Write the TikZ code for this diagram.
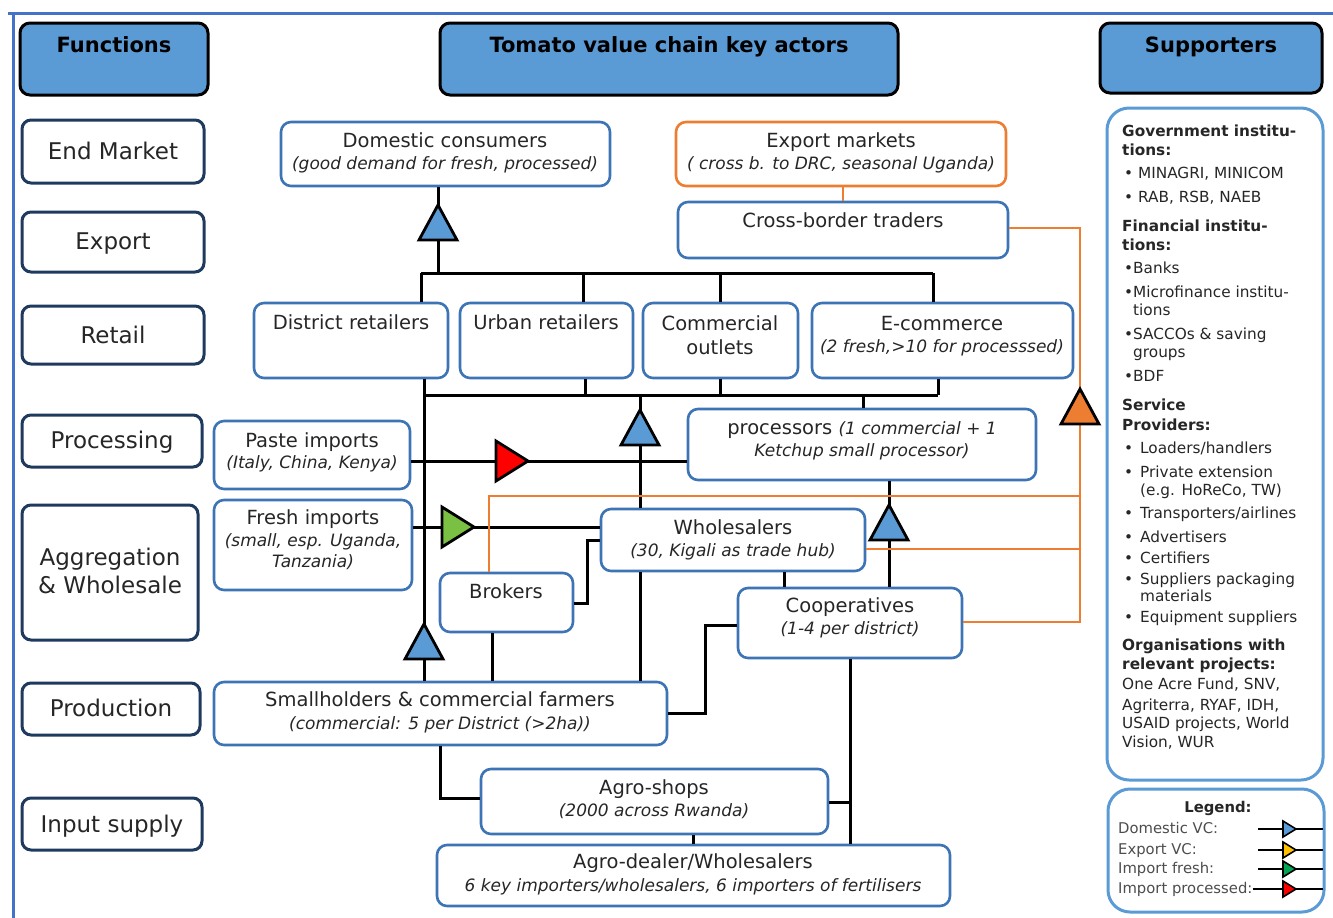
\documentclass[tikz,border=0pt]{standalone}
\usepackage{fontspec}
\setmainfont{DejaVu Sans}
\definecolor{hdrblue}{HTML}{5B9BD5}
\definecolor{actblue}{HTML}{3D74B5}
\definecolor{fnavy}{HTML}{1F3A5F}
\definecolor{txt}{HTML}{262626}
\definecolor{orng}{HTML}{ED7D31}
\definecolor{frameblue}{HTML}{4472C4}
\definecolor{trired}{HTML}{FF0000}
\definecolor{trigreen}{HTML}{7AC143}
\definecolor{legyellow}{HTML}{FFC000}
\definecolor{leggreen}{HTML}{00A651}
\definecolor{leggray}{HTML}{4D4D4D}

% box from corner (x1,y1) to corner (x2,y2)
\newcommand\mkbox[6]{\node[#1, minimum width={(#5)-(#3)}, minimum height={(#6)-(#4)}] (#2) at ({((#3)+(#5))/2},{((#4)+(#6))/2}) {};}
% one line of text, placed by its baseline
\newcommand\tline[5]{\node[#4] (#1) at (#2,#3) {#5};}
\newcommand\bul{\makebox[16pt][l]{•}}
% flow markers
\newcommand\triup[3]{\filldraw[tri, fill=#3] ({#1-19},{#2+17}) -- ({#1+19},{#2+17}) -- (#1,{#2-18}) -- cycle;}
\newcommand\triright[3]{\filldraw[tri, fill=#3] ({#1-16},{#2-20}) -- ({#1-16},{#2+20}) -- ({#1+16},#2) -- cycle;}
\newcommand\legtri[2]{\filldraw[draw=black, line width=1.6, fill=#2] (1283,{#1-8}) -- (1283,{#1+8}) -- (1296,#1) -- cycle;}

\begin{document}
\begin{tikzpicture}[x=1pt, y=-1pt,
  hbox/.style={draw=black, line width=3, fill=hdrblue, rounded corners=10, inner sep=0},
  fbox/.style={draw=fnavy, line width=3, fill=white, rounded corners=9, inner sep=0},
  abox/.style={draw=actblue, line width=2.6, fill=white, rounded corners=10, inner sep=0},
  obox/.style={abox, draw=orng},
  sbox/.style={draw=hdrblue, line width=3, fill=white, rounded corners=22, inner sep=0},
  ht/.style={anchor=base, inner sep=0, font=\fontsize{21}{24}\selectfont\bfseries, text=black},
  ft/.style={anchor=base, inner sep=0, font=\fontsize{23}{26}\selectfont, text=txt},
  mt/.style={anchor=base, inner sep=0, font=\fontsize{19.5}{22}\selectfont, text=txt},
  it/.style={anchor=base, inner sep=0, font=\fontsize{17}{20}\selectfont\itshape, text=txt},
  st/.style={anchor=base west, inner sep=0, font=\fontsize{15.3}{18}\selectfont, text=txt},
  sb/.style={st, font=\fontsize{15.3}{18}\selectfont\bfseries},
  lg/.style={anchor=base west, inner sep=0, font=\fontsize{14.8}{17}\selectfont, text=leggray},
  conn/.style={draw=black, line width=3},
  oconn/.style={draw=orng, line width=2.4},
  tri/.style={draw=black, line width=2.8, line join=miter},
]
\useasboundingbox (0,0) rectangle (1333,918);
\fill[white] (0,0) rectangle (1333,918);

% outer frame
\draw[frameblue, line width=3] (8,13) -- (1333,13);
\draw[frameblue, line width=3] (13,13) -- (13,918);

% column headers
\mkbox{hbox}{hfun}{20}{23}{208}{95}
\mkbox{hbox}{hact}{440}{23}{898}{95}
\mkbox{hbox}{hsup}{1100}{23}{1322}{93}
\tline{hfun-t}{114}{52}{ht}{Functions}
\tline{hact-t}{669}{52}{ht}{Tomato value chain key actors}
\tline{hsup-t}{1211}{52}{ht}{Supporters}

% functions
\mkbox{fbox}{fend}{22}{120}{204}{183}
\mkbox{fbox}{fexp}{22}{212}{204}{272}
\mkbox{fbox}{fret}{22}{306}{204}{364}
\mkbox{fbox}{fpro}{22}{415}{202}{467}
\mkbox{fbox}{fagg}{22}{505}{198}{640}
\mkbox{fbox}{fprd}{22}{683}{200}{735}
\mkbox{fbox}{finp}{22}{798}{202}{850}
\tline{fend-t}{113}{159}{ft}{End Market}
\tline{fexp-t}{113}{249}{ft}{Export}
\tline{fret-t}{113}{343}{ft}{Retail}
\tline{fpro-t}{112}{448}{ft}{Processing}
\tline{fagg-t1}{110}{565}{ft}{Aggregation}
\tline{fagg-t2}{110}{593}{ft}{\& Wholesale}
\tline{fprd-t}{111}{716}{ft}{Production}
\tline{finp-t}{112}{832}{ft}{Input supply}

% ---------- junction points ----------
\coordinate (tb1) at (421,273);
\coordinate (tb2) at (583,273);
\coordinate (tb3) at (720,273);
\coordinate (tb4) at (933,273);
\coordinate (tbu) at (438,273);
\coordinate (lb1) at (424,395);
\coordinate (lb2) at (585,395);
\coordinate (lb3) at (720,395);
\coordinate (lb4) at (938,395);
\coordinate (lbp) at (863,395);
\coordinate (lbw) at (640,395);
\coordinate (pj) at (560,461);
\coordinate (fj) at (520,527);
\coordinate (bk1) at (587,603);
\coordinate (bk2) at (587,540);
\coordinate (bkv) at (492,650);
\coordinate (pc) at (889,500);
\coordinate (wc) at (784,580);
\coordinate (sc1) at (705,713);
\coordinate (sc2) at (705,625);
\coordinate (sa) at (440,798);
\coordinate (sr) at (850,802);
\coordinate (ad) at (693,840);
\coordinate (ec) at (843,195);
\coordinate (or1) at (1080,228);
\coordinate (or2) at (1080,622);
\coordinate (ow) at (1080,549);
\coordinate (ob1) at (489,496);
\coordinate (ob2) at (1080,496);

% actor boxes
\mkbox{abox}{dom}{281}{122}{610}{186}
\mkbox{obox}{exm}{676}{122}{1006}{186}
\mkbox{abox}{cbt}{678}{202}{1008}{258}
\mkbox{abox}{dist}{254}{303}{448}{378}
\mkbox{abox}{urb}{460}{303}{633}{378}
\mkbox{abox}{com}{643}{303}{798}{378}
\mkbox{abox}{ecom}{812}{303}{1073}{378}
\mkbox{abox}{paste}{214}{421}{410}{489}
\mkbox{abox}{proc}{688}{409}{1036}{480}
\mkbox{abox}{fresh}{214}{500}{412}{590}
\mkbox{abox}{whol}{601}{509}{865}{571}
\mkbox{abox}{brok}{440}{573}{573}{632}
\mkbox{abox}{coop}{738}{588}{962}{658}
\mkbox{abox}{small}{214}{682}{667}{745}
\mkbox{abox}{ashop}{481}{769}{828}{834}
\mkbox{abox}{adeal}{437}{845}{950}{906}

% retail to consumers
\draw[conn] (tb1) -- (tb4);
\draw[conn] (tb1) -- (tb1 |- dist.north);
\draw[conn] (tb2) -- (tb2 |- urb.north);
\draw[conn] (tb3) -- (tb3 |- com.north);
\draw[conn] (tb4) -- (tb4 |- ecom.north);
\draw[conn] (tbu) -- (tbu |- dom.south);
% supply bus under the retailers
\draw[conn] (lb1) -- (lb4);
\draw[conn] (lb2 |- urb.south) -- (lb2);
\draw[conn] (lb3 |- com.south) -- (lb3);
\draw[conn] (lb4 |- ecom.south) -- (lb4);
\draw[conn] (lbp) -- (lbp |- proc.north);
\draw[conn] (lbw) -- (lbw |- whol.north);
\draw[conn] (lb1 |- dist.south) -- (lb1 |- small.north);
% imports
\draw[conn] (paste.east |- pj) -- (proc.west |- pj);
\draw[conn] (fresh.east |- fj) -- (whol.west |- fj);
% brokers, wholesalers, cooperatives
\draw[conn] (brok.east |- bk1) -- (bk1) -- (bk2) -- (whol.west |- bk2);
\draw[conn] (bkv |- brok.south) -- (bkv |- small.north);
\draw[conn] (lbw |- whol.south) -- (lbw |- small.north);
\draw[conn] (pc |- proc.south) -- (pc |- coop.north);
\draw[conn] (wc |- whol.south) -- (wc |- coop.north);
\draw[conn] (small.east |- sc1) -- (sc1) -- (sc2) -- (coop.west |- sc2);
% inputs
\draw[conn] (sa |- small.south) -- (sa) -- (ashop.west |- sa);
\draw[conn] (ad |- ashop.south) -- (ad |- adeal.north);
\draw[conn] (sr |- coop.south) -- (sr |- adeal.north);
\draw[conn] (ashop.east |- sr) -- (sr);
% export chain (orange)
\draw[oconn] (ec |- exm.south) -- (ec |- cbt.north);
\draw[oconn] (cbt.east |- or1) -- (or1) -- (or2) -- (coop.east |- or2);
\draw[oconn] (whol.east |- ow) -- (ow);
\draw[oconn] (ob1 |- brok.north) -- (ob1) -- (ob2);

% flow markers
\triup{438}{223}{hdrblue}
\triup{640}{428}{hdrblue}
\triup{889}{523}{hdrblue}
\triup{424}{642}{hdrblue}
\triup{1080}{407}{orng}
\triright{512}{461}{trired}
\triright{458}{527}{trigreen}

% actor texts
\tline{dom-t1}{445}{147}{mt}{Domestic consumers}
\tline{dom-t2}{445}{169}{it}{(good demand for fresh, processed)}
\tline{exm-t1}{841}{147}{mt}{Export markets}
\tline{exm-t2}{841}{169}{it}{( cross b. to DRC, seasonal Uganda)}
\tline{cbt-t}{843}{227}{mt}{Cross-border traders}
\tline{dist-t}{351}{329}{mt}{District retailers}
\tline{urb-t}{546}{329}{mt}{Urban retailers}
\tline{com-t1}{720}{330}{mt}{Commercial}
\tline{com-t2}{720}{354}{mt}{outlets}
\tline{ecom-t1}{942}{330}{mt}{E-commerce}
\tline{ecom-t2}{942}{352}{it}{(2 fresh,>10 for processsed)}
\tline{paste-t1}{312}{447}{mt}{Paste imports}
\tline{paste-t2}{312}{468}{it}{(Italy, China, Kenya)}
\tline{proc-t1}{862}{434}{mt}{processors {\fontsize{17}{20}\selectfont\itshape (1 commercial + 1}}
\tline{proc-t2}{862}{456}{it}{Ketchup small processor)}
\tline{fresh-t1}{313}{524}{mt}{Fresh imports}
\tline{fresh-t2}{313}{546}{it}{(small, esp. Uganda,}
\tline{fresh-t3}{313}{567}{it}{Tanzania)}
\tline{whol-t1}{733}{534}{mt}{Wholesalers}
\tline{whol-t2}{733}{556}{it}{(30, Kigali as trade hub)}
\tline{brok-t}{506}{598}{mt}{Brokers}
\tline{coop-t1}{850}{612}{mt}{Cooperatives}
\tline{coop-t2}{850}{634}{it}{(1-4 per district)}
\tline{small-t1}{440}{706}{mt}{Smallholders \& commercial farmers}
\tline{small-t2}{440}{729}{it}{(commercial: 5 per District (>2ha))}
\tline{ashop-t1}{654}{794}{mt}{Agro-shops}
\tline{ashop-t2}{654}{816}{it}{(2000 across Rwanda)}
\tline{adeal-t1}{693}{868}{mt}{Agro-dealer/Wholesalers}
\tline{adeal-t2}{693}{891}{it}{6 key importers/wholesalers, 6 importers of fertilisers}

% supporters panel
\mkbox{sbox}{supbox}{1107}{108}{1323}{780}
\tline{g1}{1122}{136}{sb}{Government institu-}
\tline{g2}{1122}{155}{sb}{tions:}
\tline{g3}{1124}{178}{st}{• MINAGRI, MINICOM}
\tline{g4}{1124}{202}{st}{• RAB, RSB, NAEB}
\tline{f1}{1122}{231}{sb}{Financial institu-}
\tline{f2}{1122}{250}{sb}{tions:}
\tline{f3}{1124}{273}{st}{•Banks}
\tline{f4}{1124}{297}{st}{•Microfinance institu-}
\tline{f5}{1133}{315}{st}{tions}
\tline{f6}{1124}{339}{st}{•SACCOs \& saving}
\tline{f7}{1133}{357}{st}{groups}
\tline{f8}{1124}{381}{st}{•BDF}
\tline{p1}{1122}{410}{sb}{Service}
\tline{p2}{1122}{430}{sb}{Providers:}
\tline{p3}{1124}{453}{st}{\bul Loaders/handlers}
\tline{p4}{1124}{477}{st}{\bul Private extension}
\tline{p5}{1140}{495}{st}{(e.g. HoReCo, TW)}
\tline{p6}{1124}{518}{st}{\bul Transporters/airlines}
\tline{p7}{1124}{542}{st}{\bul Advertisers}
\tline{p8}{1124}{563}{st}{\bul Certifiers}
\tline{p9}{1124}{584}{st}{\bul Suppliers packaging}
\tline{p10}{1140}{601}{st}{materials}
\tline{p11}{1124}{622}{st}{\bul Equipment suppliers}
\tline{o1}{1122}{650}{sb}{Organisations with}
\tline{o2}{1122}{669}{sb}{relevant projects:}
\tline{o3}{1122}{689}{st}{One Acre Fund, SNV,}
\tline{o4}{1122}{710}{st}{Agriterra, RYAF, IDH,}
\tline{o5}{1122}{728}{st}{USAID projects, World}
\tline{o6}{1122}{747}{st}{Vision, WUR}

% legend
\mkbox{sbox}{legbox}{1108}{789}{1324}{912}
\node[anchor=base, inner sep=0, font=\fontsize{14.8}{17}\selectfont\bfseries, text=txt] (leg-h) at (1218,812) {Legend:};
\tline{leg1}{1118}{833}{lg}{Domestic VC:}
\tline{leg2}{1118}{854}{lg}{Export VC:}
\tline{leg3}{1118}{873}{lg}{Import fresh:}
\tline{leg4}{1118}{893}{lg}{Import processed:}
\coordinate (le1) at (1323,829);
\coordinate (le2) at (1323,850);
\coordinate (le3) at (1323,869);
\coordinate (le4) at (1323,889);
\draw[black, line width=2.2] (1258,829) -- (le1);
\draw[black, line width=2.2] (1258,850) -- (le2);
\draw[black, line width=2.2] (1258,869) -- (le3);
\draw[black, line width=2.2] (leg4.base east |- le4) -- (le4);
\legtri{829}{hdrblue}
\legtri{850}{legyellow}
\legtri{869}{leggreen}
\legtri{889}{trired}
\end{tikzpicture}
\end{document}
